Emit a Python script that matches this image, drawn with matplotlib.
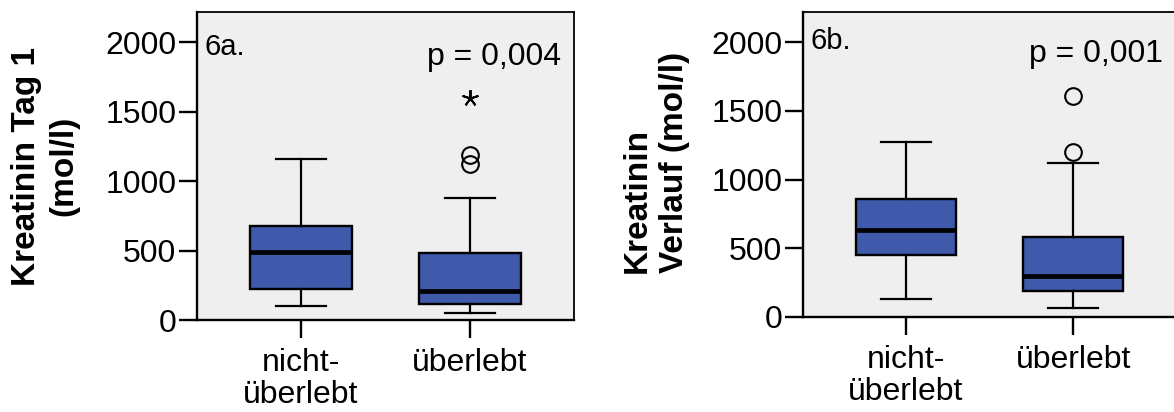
import matplotlib
matplotlib.use("Agg")
import matplotlib.pyplot as plt

plt.rcParams["font.family"] = ["Liberation Sans", "DejaVu Sans"]

# Group labels on the x axis
categories = ["nicht-\nüberlebt", "überlebt"]
positions = [1, 2]

# 6a. Kreatinin Tag 1 (mol/l): box statistics per group
tag1_q1 = [223, 117]
tag1_median = [490, 209]
tag1_q3 = [677, 483]
tag1_whisker_low = [101, 53]
tag1_whisker_high = [1158, 877]
tag1_outliers = [[], [1122, 1189]]
tag1_extremes = [[], [1600]]

# 6b. Kreatinin Verlauf (mol/l): box statistics per group
verlauf_q1 = [454, 190]
verlauf_median = [634, 299]
verlauf_q3 = [862, 585]
verlauf_whisker_low = [131, 68]
verlauf_whisker_high = [1270, 1120]
verlauf_outliers = [[], [1197, 1606]]
verlauf_extremes = [[], []]

panel_tags = ["6a.", "6b."]
p_labels = ["p = 0,004", "p = 0,001"]
y_labels = ["Kreatinin Tag 1\n(mol/l)", "Kreatinin\nVerlauf (mol/l)"]
y_ticks = [0, 500, 1000, 1500, 2000]

BOX_BLUE = "#3F59AB"
PANEL_BG = "#EFEFEF"

W, H = 1174, 412
fig = plt.figure(figsize=(W / 100, H / 100), dpi=100)
fig.patch.set_facecolor("white")


def draw_panel(ax, q1, med, q3, lo, hi, outliers, extremes, tag, ptext,
               tag_y, p_y):
    stats = []
    for a, m, b, l, h, f in zip(q1, med, q3, lo, hi, outliers):
        stats.append(dict(q1=a, med=m, q3=b, whislo=l, whishi=h, fliers=f))
    ax.bxp(stats, positions=positions, widths=0.6, capwidths=0.3,
           patch_artist=True, showfliers=True,
           boxprops=dict(facecolor=BOX_BLUE, edgecolor="black", linewidth=1.7),
           medianprops=dict(color="black", linewidth=3.4, solid_capstyle="butt"),
           whiskerprops=dict(color="black", linewidth=1.6),
           capprops=dict(color="black", linewidth=1.6),
           flierprops=dict(marker="o", markersize=12, markerfacecolor="none",
                           markeredgecolor="black", markeredgewidth=1.5))
    for pos, ex in zip(positions, extremes):
        if ex:
            ax.plot([pos] * len(ex), ex, linestyle="none", marker=(5, 2, 0),
                    markersize=12, color="black", markeredgewidth=1.4)

    ax.set_facecolor(PANEL_BG)
    ax.set_xlim(0.385, 2.615)
    ax.set_ylim(0, 2217)
    ax.set_yticks(y_ticks)
    ax.set_yticklabels([str(v) for v in y_ticks])
    ax.set_xticks(positions)
    ax.set_xticklabels(categories, linespacing=1.1)
    ax.tick_params(axis="y", length=13, width=1.7, pad=2, labelsize=23,
                   direction="out", color="black")
    ax.tick_params(axis="x", length=13, width=1.7, pad=7, labelsize=23,
                   direction="out", color="black")
    for side in ("left", "bottom"):
        ax.spines[side].set_linewidth(1.7)
    for side in ("top", "right"):
        ax.spines[side].set_linewidth(1.3)
    for sp in ax.spines.values():
        sp.set_color("black")

    ax.text(0.019, tag_y, tag, transform=ax.transAxes, fontsize=21,
            ha="left", va="baseline")
    ax.text(0.966, p_y, ptext, transform=ax.transAxes, fontsize=23,
            ha="right", va="baseline")


ax_a = fig.add_axes([197 / W, 92 / H, 377 / W, 307.7 / H])
draw_panel(ax_a, tag1_q1, tag1_median, tag1_q3, tag1_whisker_low,
           tag1_whisker_high, tag1_outliers, tag1_extremes,
           panel_tags[0], p_labels[0], tag_y=0.861, p_y=0.829)

ax_b = fig.add_axes([803 / W, 95 / H, 373 / W, 304.7 / H])
draw_panel(ax_b, verlauf_q1, verlauf_median, verlauf_q3, verlauf_whisker_low,
           verlauf_whisker_high, verlauf_outliers, verlauf_extremes,
           panel_tags[1], p_labels[1], tag_y=0.88, p_y=0.837)

# Rotated two-line axis titles
fig.text(45.5 / W, 1 - 166 / H, y_labels[0], rotation=90, ha="center",
         va="center", multialignment="center", fontsize=24,
         fontweight="bold", linespacing=1.25)
fig.text(656 / W, 1 - 162.5 / H, y_labels[1], rotation=90, ha="center",
         va="center", multialignment="left", fontsize=24,
         fontweight="bold", linespacing=1.25)

fig.savefig("out.png", dpi=100)
